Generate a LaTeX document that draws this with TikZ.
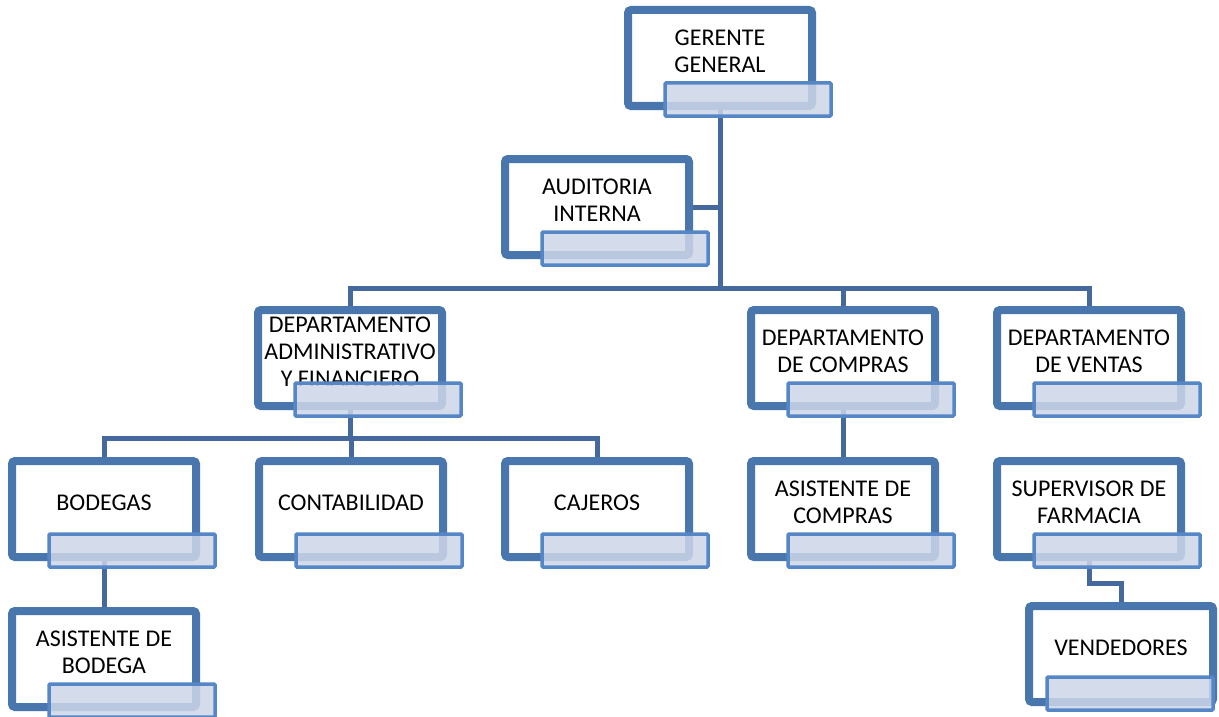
\documentclass[tikz,border=0pt]{standalone}
\usepackage{fontspec}
\setmainfont{Carlito}
\usetikzlibrary{backgrounds,shadows.blur}

\definecolor{boxblue}{HTML}{4A76AE}
\definecolor{connblue}{HTML}{45699D}
\definecolor{subfill}{HTML}{CDD6E8}
\definecolor{subline}{HTML}{5586C6}

\tikzset{
  mainbox/.style={draw=boxblue, line width=8pt, fill=white, rounded corners=3pt,
    minimum width=184pt, minimum height=96pt, inner sep=0pt, outer sep=0pt,
    blur shadow={shadow xshift=2pt, shadow yshift=-2.5pt, shadow blur steps=6,
      shadow blur extra rounding=2pt, shadow opacity=25}},
  boxtext/.style={align=center, inner sep=0pt, font=\fontsize{24}{27}\selectfont},
  subbox/.style={draw=subline, line width=3.5pt, fill=subfill, fill opacity=0.85,
    draw opacity=1, rounded corners=1pt, minimum width=166pt, minimum height=33pt,
    inner sep=0pt, outer sep=0pt},
  conn/.style={draw=connblue, line width=5pt}
}

% one position of the chart: [shift of the tab], name, left edge, top edge, caption
\newcommand\orgbox[5][{28pt,-41.5pt}]{%
  \node[mainbox] (#2) at ({#3+96},{-(#4+52)}) {};
  \node[boxtext] (#2-t) at ([yshift=6.5pt]#2.center) {#5};
  \node[subbox] (#2-s) at ([shift={(#1)}]#2.center) {};
}

\begin{document}
\begin{tikzpicture}[x=1pt, y=1pt]
\useasboundingbox (0,0) rectangle (1219,-717);

\orgbox{ger}{624}{6}{GERENTE\\GENERAL}
\orgbox{aud}{501}{155}{AUDITORIA\\INTERNA}
\orgbox{adm}{254}{306}{DEPARTAMENTO\\ADMINISTRATIVO\\Y FINANCIERO}
\orgbox{com}{747}{306}{DEPARTAMENTO\\DE COMPRAS}
\orgbox{ven}{993}{306}{DEPARTAMENTO\\DE VENTAS}
\orgbox{bod}{8}{457}{BODEGAS}
\orgbox{con}{255}{457}{CONTABILIDAD}
\orgbox{caj}{501}{457}{CAJEROS}
\orgbox{acom}{747}{457}{ASISTENTE DE\\COMPRAS}
\orgbox{sup}{993}{457}{SUPERVISOR DE\\FARMACIA}
\orgbox{abod}{8}{607}{ASISTENTE DE\\BODEGA}
\orgbox[{9pt,-39.5pt}]{vend}{1025}{602}{VENDEDORES}

\coordinate (bus1) at (720,-288);
\coordinate (bus2) at (350,-438);
\coordinate (elbow) at (1100,-583);

\begin{pgfonlayer}{background}
  \draw[conn] (ger.center) -- (ger.center |- bus1);
  \draw[conn] (aud.east) -- (aud.east -| ger.center);
  \draw[conn] (adm.north) |- (bus1) -| (ven.north);
  \draw[conn] (com.north) -- (com.north |- bus1);
  \draw[conn] (adm.center) -- (adm.center |- bus2);
  \draw[conn] (bod.north) |- (bus2) -| (caj.north);
  \draw[conn] (con.north) -- (con.north |- bus2);
  \draw[conn] (bod.center) -- (abod.north);
  \draw[conn] (com.center) -- (acom.north);
  \draw[conn] (sup.center) |- (elbow) -| (vend.north);
\end{pgfonlayer}
\end{tikzpicture}
\end{document}
